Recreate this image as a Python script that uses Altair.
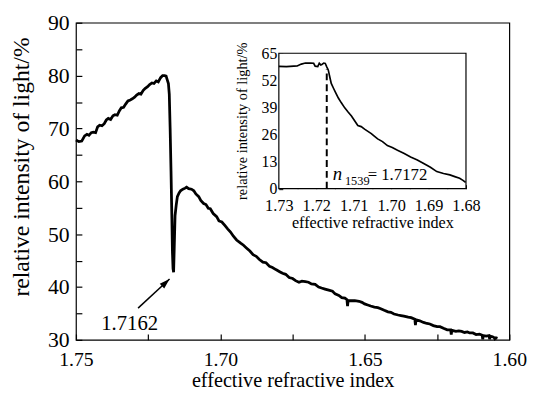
import altair as alt
import pandas as pd

FONT = "Liberation Serif"

# ---------------- data ----------------
main_n = [1.7500, 1.7490, 1.7480, 1.7470, 1.7462, 1.7455, 1.7447, 1.7440, 1.7432, 1.7425,
          1.7418, 1.7410, 1.7402, 1.7395, 1.7388, 1.7380, 1.7372, 1.7365, 1.7357, 1.7350,
          1.7343, 1.7335, 1.7328, 1.7320, 1.7312, 1.7305, 1.7297, 1.7290, 1.7282, 1.7275,
          1.7267, 1.7260, 1.7252, 1.7245, 1.7237, 1.7230, 1.7222, 1.7215, 1.7207, 1.7200,
          1.7193, 1.7188, 1.7184, 1.7180, 1.7177, 1.7174, 1.7171, 1.7168, 1.7166, 1.7164,
          1.7162, 1.7160, 1.7157, 1.7153, 1.7149, 1.7143, 1.7138, 1.7130, 1.7122, 1.7117,
          1.7110, 1.7100, 1.7092, 1.7085, 1.7075, 1.7068, 1.7058, 1.7050, 1.7042, 1.7035,
          1.7025, 1.7013, 1.7005, 1.6995, 1.6984, 1.6975, 1.6965, 1.6955, 1.6944, 1.6930,
          1.6920, 1.6910, 1.6898, 1.6887, 1.6876, 1.6865, 1.6853, 1.6842, 1.6830, 1.6820,
          1.6808, 1.6795, 1.6785, 1.6774, 1.6762, 1.6750, 1.6740, 1.6728, 1.6718, 1.6706,
          1.6695, 1.6685, 1.6672, 1.6660, 1.6650, 1.6638, 1.6625, 1.6612, 1.6603, 1.6590,
          1.6580, 1.6569, 1.6562, 1.6560, 1.6558, 1.6545, 1.6535, 1.6520, 1.6510, 1.6501,
          1.6490, 1.6480, 1.6467, 1.6455, 1.6445, 1.6433, 1.6420, 1.6410, 1.6399, 1.6385,
          1.6375, 1.6365, 1.6350, 1.6340, 1.6327, 1.6325, 1.6323, 1.6310, 1.6297, 1.6285,
          1.6275, 1.6263, 1.6250, 1.6240, 1.6228, 1.6215, 1.6203, 1.6201, 1.6199, 1.6185,
          1.6175, 1.6165, 1.6155, 1.6145, 1.6137, 1.6126, 1.6115, 1.6103, 1.6094, 1.6092,
          1.6090, 1.6080, 1.6070, 1.6068, 1.6066, 1.6058, 1.6052, 1.6050, 1.6046, 1.6041]
main_I = [67.8, 67.5, 67.6, 68.6, 68.9, 68.7, 69.2, 69.3, 69.2, 70.3,
          70.6, 70.5, 70.9, 71.6, 71.9, 71.7, 72.4, 72.6, 72.5, 73.3,
          73.9, 74.0, 74.6, 75.2, 75.4, 75.6, 75.9, 76.3, 76.6, 76.5,
          77.2, 77.6, 77.9, 78.3, 78.6, 78.5, 79.0, 78.8, 79.6, 80.0,
          80.0, 79.9, 79.2, 78.5, 76.5, 70.0, 62.0, 53.0, 46.5, 43.5,
          42.8, 47.0, 53.5, 55.5, 57.1, 57.8, 58.2, 58.5, 58.7, 58.9,
          58.6, 58.5, 58.2, 57.6, 57.1, 56.4, 55.8, 55.6, 54.9, 54.8,
          53.9, 53.3, 52.5, 52.3, 51.6, 51.0, 50.4, 49.6, 48.9, 48.3,
          47.9, 47.4, 46.8, 46.1, 45.8, 45.2, 44.7, 44.6, 43.9, 43.7,
          43.3, 42.9, 42.6, 42.4, 41.8, 41.6, 41.2, 40.9, 41.1, 41.0,
          40.9, 40.6, 40.5, 40.0, 39.8, 39.6, 39.4, 39.2, 38.7, 38.4,
          38.0, 37.9, 37.6, 36.4, 37.4, 37.4, 37.4, 37.3, 37.1, 36.8,
          36.6, 36.4, 36.2, 36.1, 35.9, 35.6, 35.3, 35.2, 34.9, 34.7,
          34.6, 34.5, 34.3, 34.2, 33.9, 32.8, 33.8, 33.6, 33.3, 33.1,
          33.0, 32.7, 32.5, 32.5, 32.2, 31.9, 31.9, 31.0, 31.8, 31.6,
          31.7, 31.6, 31.4, 31.5, 31.3, 31.3, 31.0, 31.1, 30.9, 30.1,
          30.8, 30.7, 30.8, 30.1, 30.7, 30.6, 30.4, 30.2, 30.4, 30.3]

inset_n = [1.7300, 1.7280, 1.7260, 1.7251, 1.7240, 1.7229, 1.7215, 1.7207, 1.7203, 1.7196,
           1.7192, 1.7188, 1.7185, 1.7180, 1.7176, 1.7172, 1.7168, 1.7163, 1.7160, 1.7154,
           1.7148, 1.7141, 1.7133, 1.7124, 1.7115, 1.7106, 1.7098, 1.7089, 1.7080, 1.7071,
           1.7062, 1.7053, 1.7045, 1.7036, 1.7023, 1.7010, 1.6997, 1.6983, 1.6965, 1.6948,
           1.6930, 1.6913, 1.6895, 1.6878, 1.6860, 1.6843, 1.6830, 1.6817, 1.6808, 1.6801]
inset_I = [58.7, 58.6, 58.8, 58.9, 59.8, 60.3, 60.3, 60.2, 58.8, 58.6,
           60.2, 59.4, 59.6, 60.3, 60.1, 58.5, 57.0, 52.9, 50.5, 48.2,
           46.0, 43.5, 41.2, 38.8, 36.8, 34.9, 32.7, 30.3, 29.8, 28.6,
           27.5, 26.4, 25.2, 23.9, 22.6, 20.7, 19.8, 18.4, 16.9, 15.2,
           13.8, 12.1, 10.3, 8.2, 7.3, 6.6, 5.8, 5.0, 4.0, 3.0]

main_xticks = [1.75, 1.725, 1.70, 1.675, 1.65, 1.625, 1.60]
main_yticks = [30, 35, 40, 45, 50, 55, 60, 65, 70, 75, 80, 85, 90]
inset_xticks = [1.73, 1.725, 1.72, 1.715, 1.71, 1.705, 1.70, 1.695, 1.69, 1.685, 1.68]
inset_yticks = [0, 13, 26, 39, 52, 65]

main_xdomain = [1.75, 1.60]
main_ydomain = [30, 90]
inset_xdomain = [1.73, 1.68]
inset_ydomain = [0, 65]

dip_label = "1.7162"
dip_label_pos = [1.7314, 33.0]
arrow_tail = [1.7285, 36.0]
arrow_tip = [1.7176, 41.5]
n1539 = 1.7172
dash_top = 57.5

# ---------------- layout ----------------
W, H = 440, 322
INSET_X_RANGE = [206, 396]
INSET_Y_RANGE = [168.5, 31]

# ---------------- encodings ----------------
mx = alt.X(
    "n:Q",
    scale=alt.Scale(domain=main_xdomain, nice=False, zero=False),
    axis=alt.Axis(
        values=main_xticks,
        labelExpr="round(datum.value*1000) % 50 == 0 ? format(datum.value, '.2f') : ''",
        orient="bottom", offset=-6, tickSize=6, tickWidth=1.2, tickColor="black",
        domain=False, grid=False, labelFont=FONT, labelFontSize=20, labelColor="black",
        labelPadding=10, labelFlush=False, labelOverlap=False,
        title="effective refractive index", titleFont=FONT, titleFontSize=20.5,
        titleFontWeight="normal", titleColor="black", titleX=220, titleY=47,
        titleBaseline="middle", titleAlign="center",
    ),
)
my = alt.Y(
    "I:Q",
    scale=alt.Scale(domain=main_ydomain, nice=False, zero=False),
    axis=alt.Axis(
        values=main_yticks,
        labelExpr="datum.value % 10 == 0 ? datum.label : ''",
        orient="left", offset=-6, tickSize=6, tickWidth=1.2, tickColor="black",
        domain=False, grid=False, labelFont=FONT, labelFontSize=22, labelColor="black",
        labelPadding=7, labelOverlap=False, labelFlush=False,
        title="relative intensity of light/%", titleFont=FONT, titleFontSize=24,
        titleFontWeight="normal", titleColor="black", titleAngle=270,
        titleX=-61, titleY=146, titleBaseline="middle", titleAlign="center",
    ),
)
ix = alt.X(
    "n2:Q",
    scale=alt.Scale(domain=inset_xdomain, range=INSET_X_RANGE, nice=False, zero=False),
    axis=alt.Axis(
        values=inset_xticks,
        labelExpr="round(datum.value*1000) % 10 == 0 ? format(datum.value, '.2f') : ''",
        orient="bottom", offset=-(H - INSET_Y_RANGE[0] + 4), tickSize=4, tickWidth=1,
        tickColor="black", domain=False, grid=False, labelFont=FONT, labelFontSize=16.5,
        labelColor="black", labelPadding=9, labelFlush=False, labelOverlap=False,
        title="effective refractive index", titleFont=FONT, titleFontSize=16.4,
        titleFontWeight="normal", titleColor="black", titleX=301, titleY=38.5,
        titleBaseline="middle", titleAlign="center",
    ),
)
iy = alt.Y(
    "I2:Q",
    scale=alt.Scale(domain=inset_ydomain, range=INSET_Y_RANGE, nice=False, zero=False),
    axis=alt.Axis(
        values=inset_yticks, orient="left", offset=-(INSET_X_RANGE[0] + 4), tickSize=4,
        tickWidth=1, tickColor="black", domain=False, grid=False, labelFont=FONT,
        labelFontSize=16, labelColor="black", labelPadding=2, labelOverlap=False,
        labelFlush=False,
        title="relative intensity of light/%", titleFont=FONT, titleFontSize=14.6,
        titleFontWeight="normal", titleColor="black", titleAngle=270,
        titleX=-41, titleY=99.5, titleBaseline="middle", titleAlign="center",
    ),
)

# ---------------- main layers ----------------
main_df = pd.DataFrame({"n": main_n, "I": main_I})
main_line = alt.Chart(main_df).mark_line(color="black", strokeWidth=2.8).encode(x=mx, y=my)

lab_df = pd.DataFrame({"n": [dip_label_pos[0]], "I": [dip_label_pos[1]], "t": [dip_label]})
main_text = alt.Chart(lab_df).mark_text(
    font=FONT, fontSize=21, color="black", align="center", baseline="middle"
).encode(x=mx, y=my, text="t:N")

arrow_df = pd.DataFrame({"n": [arrow_tail[0]], "I": [arrow_tail[1]],
                         "ne": [arrow_tip[0]], "Ie": [arrow_tip[1]]})
arrow_rule = alt.Chart(arrow_df).mark_rule(color="black", strokeWidth=1.5).encode(
    x=mx, y=my, x2="ne:Q", y2="Ie:Q")
tip_df = pd.DataFrame({"n": [arrow_tip[0]], "I": [arrow_tip[1]]})
arrow_head = alt.Chart(tip_df).mark_point(
    shape="M0,0L0.32,1L-0.32,1Z", size=440, filled=True, color="black",
    opacity=1, angle=47, strokeWidth=0
).encode(x=mx, y=my)

main_layer = alt.layer(main_line, arrow_rule, arrow_head, main_text)

# ---------------- inset layers ----------------
frame_df = pd.DataFrame({"n2": [inset_xdomain[0]], "n2e": [inset_xdomain[1]],
                         "I2": [inset_ydomain[0]], "I2e": [inset_ydomain[1]]})
inset_frame = alt.Chart(frame_df).mark_rect(
    fill="white", stroke="black", strokeWidth=1.2
).encode(x=ix, x2="n2e:Q", y=iy, y2="I2e:Q")

inset_df = pd.DataFrame({"n2": inset_n, "I2": inset_I})
inset_line = alt.Chart(inset_df).mark_line(color="black", strokeWidth=1.7).encode(x=ix, y=iy)

dash_df = pd.DataFrame({"n2": [n1539], "I2": [0], "I2e": [dash_top]})
inset_dash = alt.Chart(dash_df).mark_rule(
    color="black", strokeWidth=2, strokeDash=[7, 4]
).encode(x=ix, y=iy, y2="I2e:Q")

t_df = pd.DataFrame({"n2": [n1539], "I2": [4.0], "t": ["n"]})
t_n = alt.Chart(t_df).mark_text(
    font=FONT, fontSize=19, fontStyle="italic", color="black", align="left",
    baseline="alphabetic", dx=6
).encode(x=ix, y=iy, text="t:N")
s_df = pd.DataFrame({"n2": [n1539], "I2": [1.65], "t": ["1539"]})
t_sub = alt.Chart(s_df).mark_text(
    font=FONT, fontSize=12.5, color="black", align="left", baseline="alphabetic", dx=18.5
).encode(x=ix, y=iy, text="t:N")
v_df = pd.DataFrame({"n2": [n1539], "I2": [4.0], "t": ["= " + f"{n1539:.4f}"]})
t_val = alt.Chart(v_df).mark_text(
    font=FONT, fontSize=17, color="black", align="left", baseline="alphabetic", dx=41.5
).encode(x=ix, y=iy, text="t:N")

inset_layer = alt.layer(inset_frame, inset_line, inset_dash, t_n, t_sub, t_val)

chart = alt.layer(main_layer, inset_layer).resolve_scale(
    x="independent", y="independent"
).properties(
    width=W, height=H,
    autosize=alt.AutoSizeParams(type="none"),
    padding={"left": 69, "top": 12, "right": 21, "bottom": 51},
    background="white",
).configure_view(stroke="black", strokeWidth=1.2)

chart.save("out.html", embed_options={"renderer": "svg", "actions": False})
